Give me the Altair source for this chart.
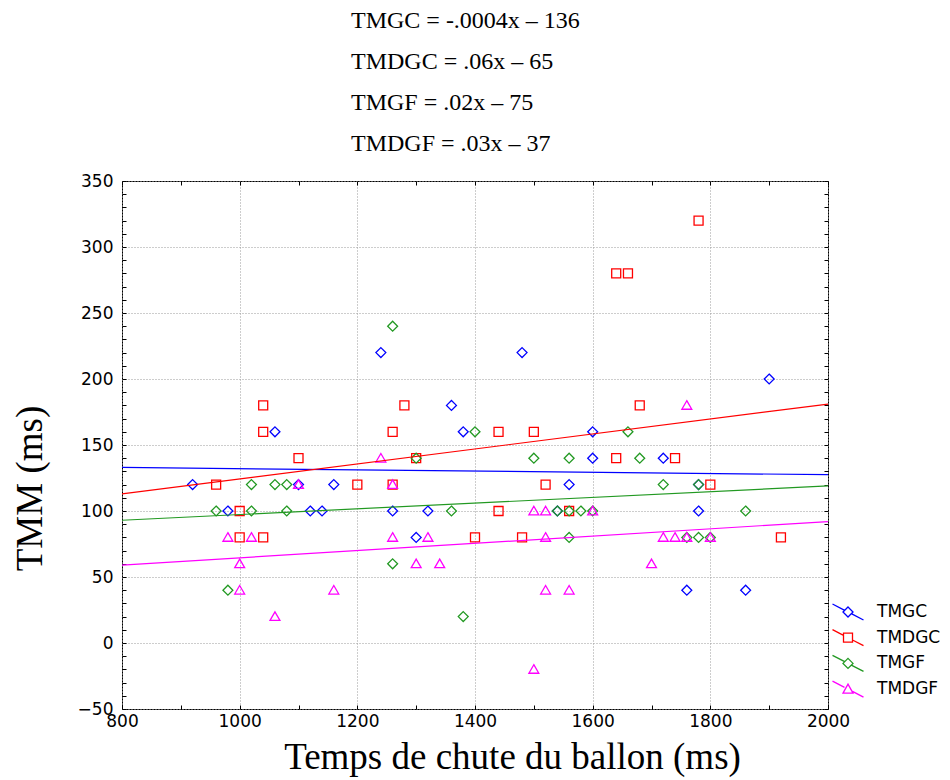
import altair as alt
import pandas as pd

series = ["TMGC", "TMDGC", "TMGF", "TMDGF"]
colors = ["#0000ff", "#ff0000", "#229922", "#ff00ff"]

tmgc_x = [920, 980, 1060, 1100, 1120, 1140, 1160, 1240, 1260, 1300, 1320, 1360, 1380, 1480,
          1540, 1560, 1600, 1600, 1720, 1760, 1780, 1780, 1860, 1900]
tmgc_y = [120, 100, 160, 120, 100, 100, 120, 220, 100, 80, 100, 180, 160, 220,
          100, 120, 160, 140, 140, 40, 120, 100, 40, 200]

tmdgc_x = [960, 1000, 1000, 1040, 1040, 1040, 1100, 1200, 1260, 1260, 1280, 1300, 1400, 1440,
           1440, 1480, 1500, 1520, 1560, 1640, 1660, 1640, 1680, 1740, 1780, 1800, 1920]
tmdgc_y = [120, 100, 80, 180, 160, 80, 140, 120, 160, 120, 180, 140, 80, 160,
           100, 80, 160, 120, 100, 280, 280, 140, 180, 140, 320, 120, 80]

tmgf_x = [960, 980, 1020, 1020, 1060, 1080, 1080, 1260, 1260, 1300, 1360, 1380, 1400, 1500,
          1540, 1560, 1560, 1560, 1580, 1600, 1660, 1680, 1720, 1760, 1780, 1780, 1800, 1860]
tmgf_y = [100, 40, 120, 100, 120, 120, 100, 240, 60, 140, 100, 20, 160, 140,
          100, 140, 100, 80, 100, 100, 160, 140, 120, 80, 120, 80, 80, 100]

tmdgf_x = [980, 1000, 1000, 1020, 1060, 1100, 1160, 1240, 1260, 1260, 1300, 1320, 1340, 1500,
           1500, 1520, 1520, 1520, 1560, 1600, 1700, 1720, 1740, 1760, 1760, 1800]
tmdgf_y = [80, 60, 40, 80, 20, 120, 40, 140, 120, 80, 60, 80, 60, 100,
           -20, 100, 80, 40, 40, 100, 60, 80, 80, 180, 80, 80]

fit_x = [800, 2000]
fit_tmgc = [133, 127.5]
fit_tmdgc = [113, 181]
fit_tmgf = [93, 119]
fit_tmdgf = [59, 92]

equations = ["TMGC = -.0004x – 136", "TMDGC = .06x – 65", "TMGF = .02x – 75", "TMDGF = .03x – 37"]

x_labels = [800, 1000, 1200, 1400, 1600, 1800, 2000]
y_labels = [-50, 0, 50, 100, 150, 200, 250, 300, 350]
x_minor = list(range(800, 2001, 100))
y_minor = list(range(-50, 351, 10))

pts = pd.concat([
    pd.DataFrame({"x": tmgc_x, "y": tmgc_y, "series": "TMGC"}),
    pd.DataFrame({"x": tmdgc_x, "y": tmdgc_y, "series": "TMDGC"}),
    pd.DataFrame({"x": tmgf_x, "y": tmgf_y, "series": "TMGF"}),
    pd.DataFrame({"x": tmdgf_x, "y": tmdgf_y, "series": "TMDGF"}),
], ignore_index=True)

fits = pd.concat([
    pd.DataFrame({"x": fit_x, "y": fit_tmgc, "series": "TMGC"}),
    pd.DataFrame({"x": fit_x, "y": fit_tmdgc, "series": "TMDGC"}),
    pd.DataFrame({"x": fit_x, "y": fit_tmgf, "series": "TMGF"}),
    pd.DataFrame({"x": fit_x, "y": fit_tmdgf, "series": "TMDGF"}),
], ignore_index=True)

xscale = alt.Scale(domain=[800, 2000], nice=False, zero=False)
yscale = alt.Scale(domain=[-50, 350], nice=False, zero=False)
color_scale = alt.Scale(domain=series, range=colors)

SANS = "DejaVu Sans"
SERIF = "Liberation Serif"

DIAMOND = "M0,-1.1L1.1,0L0,1.1L-1.1,0Z"
SQUARE = "M-1,-1L1,-1L1,1L-1,1Z"
TRIANGLE = "M0,-1.05L1.1,0.85L-1.1,0.85Z"


def tick_axis(orient, values):
    return alt.Axis(orient=orient, values=values, labels=False, domain=False, grid=False,
                    ticks=True, tickSize=4, offset=-4, tickColor="#000000", tickWidth=1,
                    title=None)


x_main = alt.Axis(orient="bottom", values=x_labels, format="d", grid=True, gridDash=[1, 2],
                  gridColor="#9a9a9a", gridWidth=1, ticks=False, domain=False,
                  labelFont=SANS, labelFontSize=17, labelColor="#000000", labelPadding=4,
                  labelFlush=False,
                  title="Temps de chute du ballon (ms)", titleFont=SERIF, titleFontSize=37,
                  titleFontWeight="normal", titleColor="#000000", titleX=390, titleY=48,
                  titleBaseline="middle", titleAlign="center")
y_main = alt.Axis(orient="left", values=y_labels, format="d", grid=True, gridDash=[1, 2],
                  gridColor="#9a9a9a", gridWidth=1, ticks=False, domain=False,
                  labelFont=SANS, labelFontSize=17, labelColor="#000000", labelPadding=9,
                  labelFlush=False,
                  title="TMM (ms)", titleFont=SERIF, titleFontSize=37, titleFontWeight="normal",
                  titleColor="#000000", titleX=-92, titleY=307, titleAngle=270,
                  titleBaseline="middle", titleAlign="center")

points = alt.Chart(pts).mark_point(filled=False, size=81, strokeWidth=1.3, opacity=1).encode(
    x=alt.X("x:Q", scale=xscale, axis=x_main),
    y=alt.Y("y:Q", scale=yscale, axis=y_main),
    color=alt.Color("series:N", scale=color_scale, legend=None),
    shape=alt.Shape("series:N", scale=alt.Scale(domain=series,
                    range=[DIAMOND, SQUARE, DIAMOND, TRIANGLE]), legend=None),
)

lines = alt.Chart(fits).mark_line(strokeWidth=1.2).encode(
    x=alt.X("x:Q", scale=xscale, axis=tick_axis("top", x_minor)),
    y=alt.Y("y:Q", scale=yscale, axis=tick_axis("right", y_minor)),
    color=alt.Color("series:N", scale=color_scale, legend=None),
)

diag_a = "M-1.55,-0.8L-{a},-{b}M{a},{b}L1.55,0.8"
leg_paths = [
    diag_a.format(a=0.33, b=0.17) + "M0,-0.5L0.5,0L0,0.5L-0.5,0Z",
    diag_a.format(a=0.45, b=0.23) + "M-0.45,-0.45L0.45,-0.45L0.45,0.45L-0.45,0.45Z",
    diag_a.format(a=0.33, b=0.17) + "M0,-0.5L0.5,0L0,0.5L-0.5,0Z",
    diag_a.format(a=0.35, b=0.18) + "M0,-0.5L0.5,0.4L-0.5,0.4Z",
]

legend_cfg = dict(orient="none", legendX=715, legendY=420, title=None, symbolSize=400,
                  symbolStrokeWidth=1.3, symbolOpacity=1, labelFont=SANS, labelFontSize=17,
                  labelColor="#000000", labelOffset=18, rowPadding=3.7, padding=0)

legend_layer = alt.Chart(pts).mark_point(filled=False, opacity=0).encode(
    x=alt.X("x:Q", scale=xscale, axis=tick_axis("bottom", x_minor)),
    y=alt.Y("y:Q", scale=yscale, axis=tick_axis("left", y_minor)),
    color=alt.Color("series:N", scale=color_scale, legend=alt.Legend(**legend_cfg)),
    shape=alt.Shape("series:N", scale=alt.Scale(domain=series, range=leg_paths),
                    legend=alt.Legend(**legend_cfg)),
)

chart = alt.layer(points, lines, legend_layer).resolve_scale(
    color="independent", shape="independent"
).resolve_axis(
    x="independent", y="independent"
).properties(
    width=706, height=528,
    autosize=alt.AutoSizeParams(type="none"),
    padding={"left": 114, "top": 173, "right": 114, "bottom": 70},
    title=alt.TitleParams(text=equations, anchor="start", dx=340, fontSize=24, font=SERIF,
                          fontWeight="normal", lineHeight=41, offset=16, color="#000000"),
    background="white",
).configure_view(stroke="#000000", strokeWidth=1)

chart.save("out.html", embed_options={"renderer": "svg", "actions": False})
